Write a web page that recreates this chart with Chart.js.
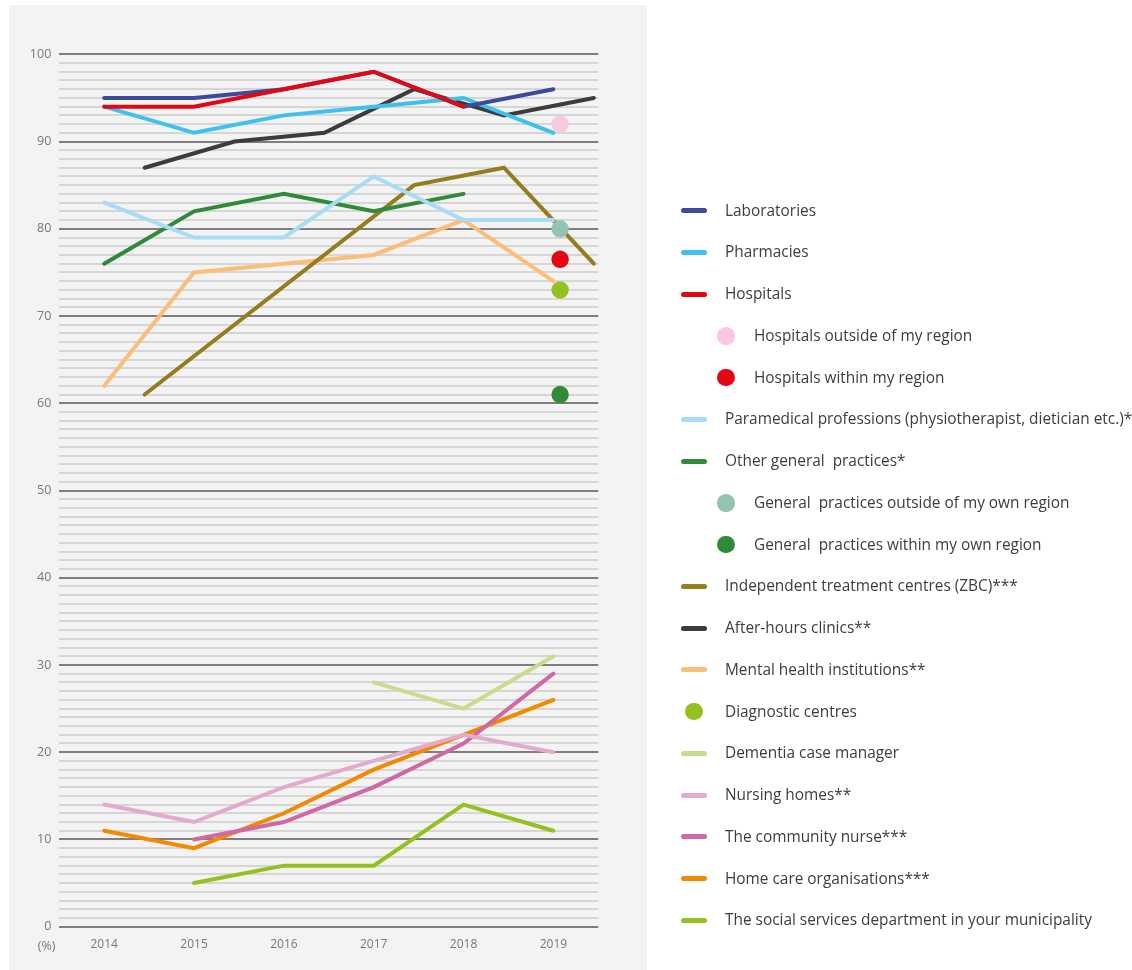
<!DOCTYPE html>
<html>
<head>
<meta charset="utf-8">
<script src="https://cdn.jsdelivr.net/npm/chart.js@4/dist/chart.umd.min.js"></script>
<style>
  html, body { margin: 0; padding: 0; background: #fff; }
  #page { position: relative; width: 1132px; height: 970px; overflow: hidden; }
  #panel { position: absolute; left: 9px; top: 5px; width: 638px; height: 965px; background: #f3f3f3; }
  #legend { position: absolute; left: 0; top: 0; width: 1132px; height: 970px; pointer-events: none;
            font-family: 'Open Sans', sans-serif; font-size: 15.4px; color: #3d3d3d; }
  .item { position: absolute; left: 0; height: 20px; line-height: 20px; white-space: pre; }
  .swatch-line { position: absolute; left: 681px; top: 7.5px; width: 26px; height: 5px; border-radius: 3px; }
  .swatch-dot { position: absolute; top: 1.3px; width: 17.4px; height: 17.4px; border-radius: 50%; }
  .text { position: absolute; top: 0; }
</style>
</head>
<body>
<div id="page">
  <div id="panel"><canvas id="chart" width="638" height="965"></canvas></div>
  <div id="legend"></div>
</div>
<script>
// survey years, the shifted positions of the ZBC / after-hours series, and the 2019 single markers
const YEARS = [2014, 2015, 2016, 2017, 2018, 2019];
const HALF_YEARS = [2014.45, 2015.45, 2016.45, 2017.45, 2018.45, 2019.45];
const DOT_YEAR = [2019.075];

const LABORATORIES = [95, 95, 96, 98, 94, 96];
const PHARMACIES = [94, 91, 93, 94, 95, 91];
const HOSPITALS = [94, 94, 96, 98, 94, null];
const HOSPITALS_OUTSIDE = [92];
const HOSPITALS_WITHIN = [76.5];
const PARAMEDICAL = [83, 79, 79, 86, 81, 81];
const OTHER_GP = [76, 82, 84, 82, 84, null];
const GP_OUTSIDE = [80];
const GP_WITHIN = [61];
const ZBC = [61, null, null, 85, 87, 76];
const AFTER_HOURS = [87, 90, 91, 96, 93, 95];
const MENTAL_HEALTH = [62, 75, 76, 77, 81, 74];
const DIAGNOSTIC = [73];
const DEMENTIA = [null, null, null, 28, 25, 31];
const NURSING_HOMES = [14, 12, 16, 19, 22, 20];
const COMMUNITY_NURSE = [null, 10, 12, 16, 21, 29];
const HOME_CARE = [11, 9, 13, 18, 22, 26];
const SOCIAL_SERVICES = [null, 5, 7, 7, 14, 11];

const Y_MIN = 0;
const Y_MAX = 100;

function toPoints(xs, ys) {
  return ys.map((y, i) => ({ x: xs[i], y: y }));
}

function lineSet(label, color, xs, ys, extra) {
  return Object.assign({
    label: label,
    data: toPoints(xs, ys),
    borderColor: color,
    backgroundColor: color,
    borderWidth: 4,
    borderCapStyle: 'round',
    borderJoinStyle: 'miter',
    pointRadius: 0,
    pointHoverRadius: 0,
    tension: 0,
    fill: false,
    legendKind: 'line',
  }, extra || {});
}

function dotSet(label, color, ys, kind) {
  return {
    label: label,
    data: toPoints(DOT_YEAR, ys),
    showLine: false,
    borderColor: color,
    backgroundColor: color,
    pointBackgroundColor: color,
    pointBorderWidth: 0,
    pointRadius: 8.7,
    pointHoverRadius: 8.7,
    order: -2,
    legendKind: kind,
  };
}

const datasets = [
  lineSet('Laboratories', '#3b4a9b', YEARS, LABORATORIES),
  lineSet('Pharmacies', '#3ec1ef', YEARS, PHARMACIES),
  lineSet('Hospitals', '#e30613', YEARS, HOSPITALS, { order: -1 }),
  dotSet('Hospitals outside of my region', '#f7c8de', HOSPITALS_OUTSIDE, 'subdot'),
  dotSet('Hospitals within my region', '#e30613', HOSPITALS_WITHIN, 'subdot'),
  lineSet('Paramedical professions (physiotherapist, dietician etc.)*', '#a7dcf6', YEARS, PARAMEDICAL),
  lineSet('Other general  practices*', '#2f8a39', YEARS, OTHER_GP),
  dotSet('General  practices outside of my own region', '#94c4af', GP_OUTSIDE, 'subdot'),
  dotSet('General  practices within my own region', '#2f8a39', GP_WITHIN, 'subdot'),
  lineSet('Independent treatment centres (ZBC)***', '#957c1e', HALF_YEARS, ZBC, { spanGaps: true }),
  lineSet('After-hours clinics**', '#3c3c3c', HALF_YEARS, AFTER_HOURS),
  lineSet('Mental health institutions**', '#fbbd7a', YEARS, MENTAL_HEALTH),
  dotSet('Diagnostic centres', '#95c11f', DIAGNOSTIC, 'dot'),
  lineSet('Dementia case manager', '#c7dd8b', YEARS, DEMENTIA),
  lineSet('Nursing homes**', '#e4a9cf', YEARS, NURSING_HOMES),
  lineSet('The community nurse***', '#d068a6', YEARS, COMMUNITY_NURSE),
  lineSet('Home care organisations***', '#f18a00', YEARS, HOME_CARE),
  lineSet('The social services department in your municipality', '#95c11f', YEARS, SOCIAL_SERVICES),
];

// "(%)" unit under the y axis, next to the year labels
const percentLabel = {
  id: 'percentLabel',
  afterDraw(chart) {
    const { ctx, chartArea } = chart;
    ctx.save();
    ctx.font = '12.5px "Open Sans"';
    ctx.fillStyle = '#787878';
    ctx.textAlign = 'center';
    ctx.textBaseline = 'middle';
    ctx.fillText('(%)', chartArea.left - 12.6, chart.scales.x.top + 20);
    ctx.restore();
  },
};

const chart = new Chart(document.getElementById('chart'), {
  type: 'line',
  data: { datasets: datasets },
  plugins: [percentLabel],
  options: {
    responsive: false,
    animation: false,
    devicePixelRatio: 1,
    layout: { padding: { left: 0, right: 48.7, top: 49.3, bottom: 0 } },
    plugins: { legend: { display: false }, tooltip: { enabled: false } },
    scales: {
      x: {
        type: 'linear',
        min: 2013.5,
        max: 2019.5,
        afterBuildTicks: (scale) => { scale.ticks = YEARS.map((v) => ({ value: v })); },
        afterFit: (scale) => { scale.height = 43.3; },
        grid: { display: false, drawTicks: false, tickLength: 0 },
        border: { display: false },
        ticks: {
          autoSkip: false,
          maxRotation: 0,
          padding: 11,
          color: '#787878',
          font: { family: 'Open Sans', size: 12 },
          callback: (v) => String(v),
        },
      },
      y: {
        min: Y_MIN,
        max: Y_MAX,
        afterFit: (scale) => { scale.width = 50.3; },
        grid: {
          drawTicks: false,
          tickLength: 0,
          color: (c) => (c.tick.value % 10 === 0 ? '#7f7f7f' : '#d6d6d6'),
          lineWidth: 2,
        },
        border: { display: false },
        ticks: {
          stepSize: 1,
          autoSkip: false,
          padding: 8,
          color: '#787878',
          font: { family: 'Open Sans', size: 12.5 },
          callback: (v) => (v % 10 === 0 ? String(v) : ''),
        },
      },
    },
  },
});

// legend on the right, built from the same datasets
const LEGEND_TOP = 210.7;
const LEGEND_STEP = 41.75;
const legendEl = document.getElementById('legend');
chart.data.datasets.forEach((ds, i) => {
  const item = document.createElement('div');
  item.className = 'item';
  item.style.top = (LEGEND_TOP - 10 + i * LEGEND_STEP) + 'px';
  const text = document.createElement('span');
  text.className = 'text';
  text.textContent = ds.label;
  const sw = document.createElement('div');
  if (ds.legendKind === 'line') {
    sw.className = 'swatch-line';
    text.style.left = '725px';
  } else {
    sw.className = 'swatch-dot';
    const cx = ds.legendKind === 'subdot' ? 726 : 694;
    sw.style.left = (cx - 8.7) + 'px';
    text.style.left = (ds.legendKind === 'subdot' ? 754 : 725) + 'px';
  }
  sw.style.background = ds.borderColor;
  item.appendChild(sw);
  item.appendChild(text);
  legendEl.appendChild(item);
});
</script>
</body>
</html>
